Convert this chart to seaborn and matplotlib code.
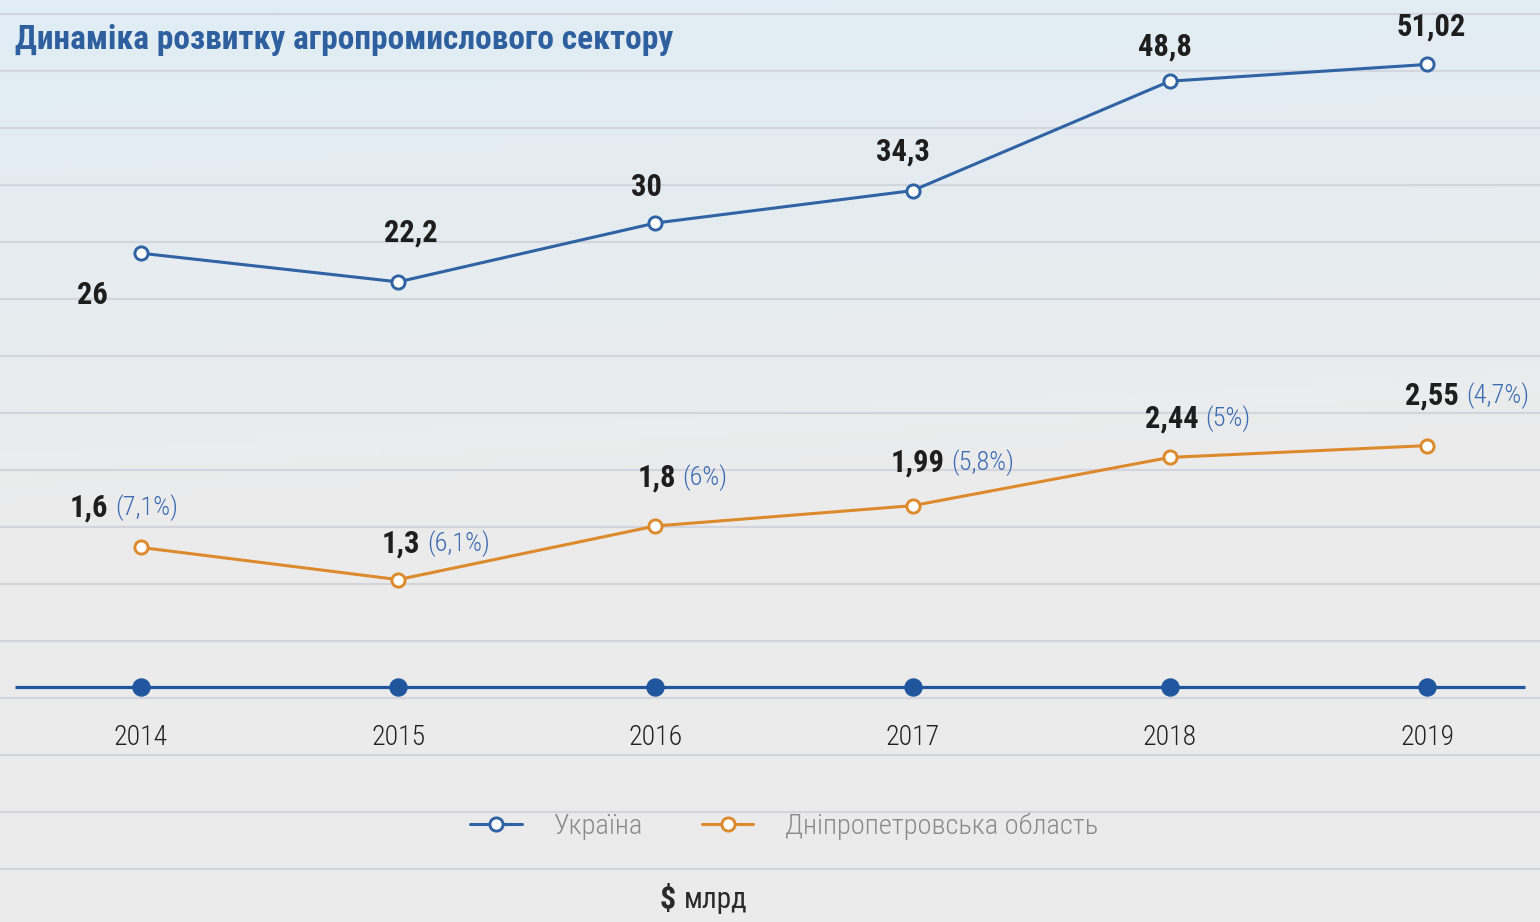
import numpy as np
import pandas as pd
import matplotlib
matplotlib.use('Agg')
import matplotlib.pyplot as plt
import matplotlib.font_manager as fm
from matplotlib.lines import Line2D
import seaborn as sns

# chart data
years = [2014, 2015, 2016, 2017, 2018, 2019]
ukraine = [26, 22.2, 30, 34.3, 48.8, 51.02]
dnipro = [1.6, 1.3, 1.8, 1.99, 2.44, 2.55]
dnipro_share = [7.1, 6.1, 6, 5.8, 5, 4.7]

title = 'Динаміка розвитку агропромислового сектору'
legend_labels = ['Україна', 'Дніпропетровська область']
unit_sign = '$'
unit_text = 'млрд'

BLUE = '#2f63a3'
ORANGE = '#dc8a2c'
BASE = '#20569d'
TEXT = '#1e1e1e'

sns.set_theme(style='white')


def pick_font():
    entries = fm.fontManager.ttflist
    for fam in ['Roboto Condensed', 'Open Sans Condensed', 'Liberation Sans Narrow',
                'DejaVu Sans Condensed', 'Noto Sans Condensed']:
        if any(e.name == fam for e in entries):
            return fam, 'normal'
    for fam in ['Noto Sans', 'Open Sans', 'Roboto', 'DejaVu Sans']:
        if any(e.name == fam and 'condensed' in str(e.stretch) for e in entries):
            return fam, 'condensed'
    return 'DejaVu Sans', 'normal'


FONT, STRETCH = pick_font()
plt.rcParams['font.family'] = [FONT, 'DejaVu Sans']
plt.rcParams['font.stretch'] = STRETCH


def fmt(v):
    return f'{v:g}'.replace('.', ',')


W, H = 1540, 922
fig = plt.figure(figsize=(W / 100, H / 100), dpi=100)

# background: soft sky gradient with horizontal rules
ax_bg = fig.add_axes([0, 0, 1, 1])
yy, xx = np.mgrid[0:1:200j, 0:1:300j]
top = np.array([0.88, 0.93, 0.96])
bottom = np.array([0.925, 0.925, 0.925])
s = np.clip(yy * 1.7 + xx * 0.15, 0, 1)[..., None]
bg = top * (1 - s) + bottom * s
ax_bg.imshow(bg, extent=(0, W, H, 0), aspect='auto', zorder=0)
ax_bg.set_xlim(0, W)
ax_bg.set_ylim(H, 0)
ax_bg.set_yticks(np.arange(14, H, 57))
ax_bg.set_xticks([])
ax_bg.grid(axis='y', color='#d2d5dd', lw=1.6)
ax_bg.tick_params(length=0, labelleft=False)
for sp in ax_bg.spines.values():
    sp.set_visible(False)
ax_bg.hlines(687, 15, 1525, color=BASE, lw=2.3, zorder=3)

# main axes: region series + year axis, twin axis for Ukraine
ax = fig.add_axes([0, 0, 1, 1], facecolor='none')
ax2 = ax.twinx()
ax.set_xlim(2013.452, 2019.439)
ax.set_ylim(-1.894, 6.707)
ax2.set_ylim(-62.64, 59.56)

df = pd.DataFrame({'year': years, 'ukraine': ukraine, 'dnipro': dnipro})
mk = dict(marker='o', markersize=9.5, markerfacecolor='white', markeredgewidth=2.1)
sns.lineplot(data=df, x='year', y='dnipro', ax=ax, color=ORANGE, lw=2.2,
             markeredgecolor=ORANGE, legend=False, **mk)
sns.lineplot(data=df, x='year', y='ukraine', ax=ax2, color=BLUE, lw=2.2,
             markeredgecolor=BLUE, legend=False, **mk)

# dots on the year axis
base_y = 1 - 687 / H
ax.scatter(years, [base_y] * len(years), s=150, color=BASE, zorder=4,
           transform=ax.get_xaxis_transform())
for yr in years:
    ax.text(yr, 1 - 737 / H, str(yr), transform=ax.get_xaxis_transform(),
            ha='center', va='center', fontsize=20, fontweight='light', color='#222222')

# value labels
ua_off = [(-49, -42), (13, 49), (-9, 36), (-10, 39), (-5, 35), (4, 38)]
for yr, v, (dx, dy) in zip(years, ukraine, ua_off):
    ax2.annotate(fmt(v), (yr, v), xytext=(dx, dy), textcoords='offset pixels',
                 ha='center', va='center', fontsize=22, fontweight='bold', color=TEXT)

dn_off = [(-52, 40), (3, 36), (1, 48), (5, 43), (2, 39), (5, 50)]
for yr, v, pct, (dx, dy) in zip(years, dnipro, dnipro_share, dn_off):
    t = ax.annotate(fmt(v), (yr, v), xytext=(dx, dy), textcoords='offset pixels',
                    ha='center', va='center', fontsize=22, fontweight='bold', color=TEXT)
    ax.annotate(f'({fmt(pct)}%)', xy=(1, 0.5), xycoords=t, xytext=(5, 0),
                textcoords='offset points', ha='left', va='center',
                fontsize=19, fontweight='light', color='#3b6bb3')

for a in (ax, ax2):
    a.axis('off')

fig.text(15 / W, 1 - 40 / H, title, ha='left', va='center', fontsize=24,
         fontweight='bold', color='#2e5f9f')

handles = [Line2D([], [], color=c, lw=2.2, markeredgecolor=c, **mk) for c in (BLUE, ORANGE)]
fig.legend(handles, legend_labels, loc='center', bbox_to_anchor=(784 / W, 1 - 826 / H),
           ncol=2, frameon=False, prop=dict(size=20.5, weight='light'), handlelength=1.8,
           handletextpad=1.1, columnspacing=2.1, labelcolor='#8a8a8a')

fig.text(676 / W, 1 - 900 / H, unit_sign, ha='right', va='center', fontsize=23,
         fontweight='bold', color='#2a2a2a')
fig.text(684 / W, 1 - 900 / H, unit_text, ha='left', va='center', fontsize=21,
         color='#2a2a2a')

fig.savefig('out.png', dpi=100)
